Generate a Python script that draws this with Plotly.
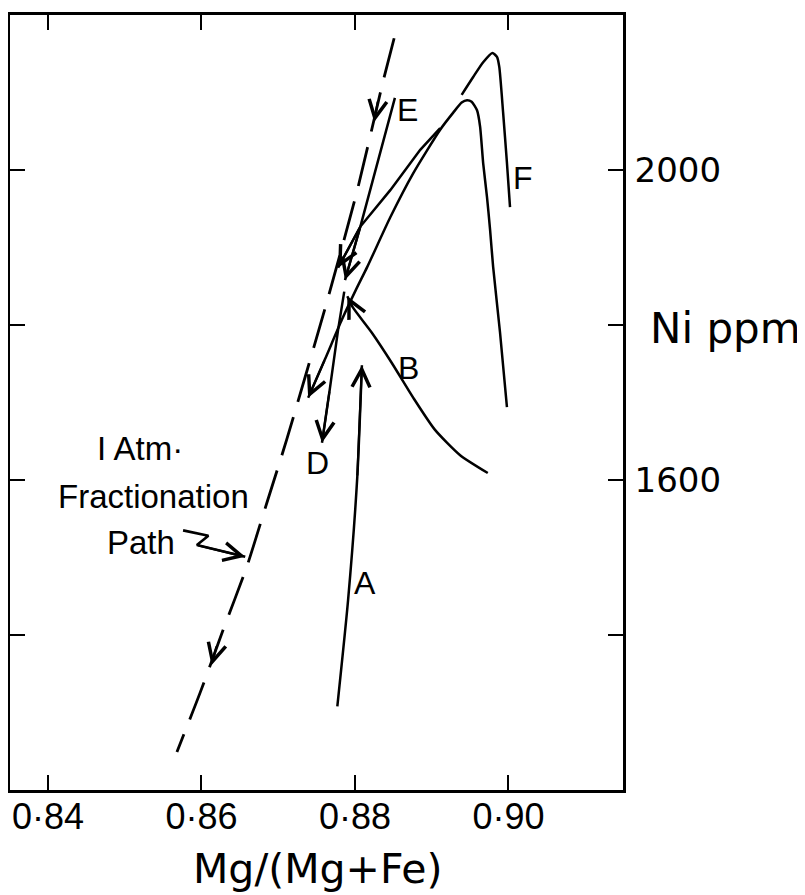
import plotly.graph_objects as go

FONT = "Liberation Sans, Arial, sans-serif"
WIDE = "DejaVu Sans, Verdana, sans-serif"

# ---- axes ----
x_range = [0.83505, 0.91492]
y_range = [1200, 2200]
x_ticks = [0.84, 0.86, 0.88, 0.90]
x_tick_labels = ["0·84", "0·86", "0·88", "0·90"]
y_ticks = [1400, 1600, 1800, 2000]
y_tick_labels = ["", "1600", "", "2000"]

# ---- 1 atm fractionation path (dashed) ----
atm_x = [0.8851, 0.8837, 0.8803, 0.8764, 0.8711, 0.8685, 0.8659, 0.8628, 0.8598, 0.8568]
atm_y = [2170, 2116, 1974, 1832, 1652, 1570, 1488, 1406, 1325, 1249]
atm_arrow_tip_x = [0.8825, 0.8613]
atm_arrow_tip_y = [2062, 1361]
atm_arrow_tail_x = [0.8830, 0.8620]
atm_arrow_tail_y = [2090, 1387]

# ---- path A (rising) ----
A_x = [0.8777, 0.8791, 0.8803, 0.8809]
A_y = [1308, 1445, 1604, 1748]

# ---- path B (from lower right back to the junction) ----
B_x = [0.8973, 0.8937, 0.8904, 0.8876, 0.8848, 0.8822, 0.8797, 0.8790]
B_y = [1609, 1632, 1665, 1706, 1751, 1790, 1823, 1837]

# ---- long curve: lower right end -> peak -> down-left to arrow ----
C_x = [0.8998, 0.8989, 0.8980, 0.8976, 0.8972, 0.8967, 0.8963, 0.8959, 0.8952,
       0.8946, 0.8939, 0.8928, 0.8911, 0.8876, 0.8846, 0.8816, 0.8801, 0.8783,
       0.8761, 0.8739]
C_y = [1694, 1790, 1875, 1923, 1965, 2009, 2056, 2077, 2088,
       2090, 2087, 2074, 2052, 1996, 1939, 1875, 1845, 1807,
       1756, 1706]

# ---- path F ----
F_x = [0.8939, 0.8954, 0.8967, 0.8979, 0.8985, 0.8988, 0.8993, 0.8998, 0.9002]
F_y = [2097, 2120, 2139, 2151, 2146, 2133, 2074, 2009, 1952]

# ---- branch from the knee down to the junction ----
G_x = [0.8911, 0.8885, 0.8846, 0.8807, 0.8778]
G_y = [2054, 2026, 1974, 1927, 1874]

# ---- path E ----
E_x = [0.8852, 0.8816, 0.8807, 0.8787]
E_y = [2093, 1961, 1927, 1858]

# ---- path D ----
D_x = [0.8786, 0.8778, 0.8767, 0.8757]
D_y = [1843, 1794, 1716, 1648]

# ---- pointer from "Path" label ----
ptr_x = [0.8576, 0.8609, 0.8594, 0.8657]
ptr_y = [1535, 1528, 1516, 1501]

# ---- labels ----
label_text = ["I Atm·", "Fractionation", "Path", "E", "F", "B", "D", "A"]
label_x = [0.8520, 0.8537, 0.8521, 0.8868, 0.9019, 0.8870, 0.8751, 0.8813]
label_y = [1641, 1579, 1520, 2077, 1990, 1745, 1622, 1467]
label_size = [33, 33, 33, 32, 32, 32, 32, 32]

fig = go.Figure()


def add_curve(xs, ys, dash=None, shape="spline", width=2.5):
    fig.add_trace(go.Scatter(
        x=xs, y=ys, mode="lines",
        line=dict(color="black", width=width, dash=dash, shape=shape, smoothing=0.6),
        hoverinfo="skip", showlegend=False))


def add_arrow(tx, ty, sx, sy):
    fig.add_annotation(x=tx, y=ty, ax=sx, ay=sy, xref="x", yref="y",
                       axref="x", ayref="y", text="", showarrow=True,
                       arrowhead=5, arrowsize=1.6, arrowwidth=2.2,
                       arrowcolor="black", standoff=0)


add_curve(atm_x, atm_y, dash="40px,16px", width=2.8)
add_curve(A_x, A_y)
add_curve(B_x, B_y)
add_curve(C_x, C_y)
add_curve(F_x, F_y)
add_curve(G_x, G_y, shape="linear")
add_curve(E_x, E_y, shape="linear")
add_curve(D_x, D_y, shape="linear")
add_curve(ptr_x, ptr_y, shape="linear", width=2.6)

for xs, ys in [(A_x, A_y), (B_x, B_y), (C_x, C_y), (G_x, G_y),
               (E_x, E_y), (D_x, D_y), (ptr_x, ptr_y)]:
    add_arrow(xs[-1], ys[-1], xs[-2], ys[-2])
for i in range(len(atm_arrow_tip_x)):
    add_arrow(atm_arrow_tip_x[i], atm_arrow_tip_y[i],
              atm_arrow_tail_x[i], atm_arrow_tail_y[i])

for t, x, y, s in zip(label_text, label_x, label_y, label_size):
    fig.add_annotation(x=x, y=y, xref="x", yref="y", text=t, showarrow=False,
                       font=dict(family=FONT, size=s, color="black"),
                       xanchor="center", yanchor="middle")

fig.add_annotation(x=1.168, y=0.5955, xref="paper", yref="paper", text="Ni ppm",
                   showarrow=False, font=dict(family=WIDE, size=42, color="black"),
                   xanchor="center", yanchor="middle")
fig.add_annotation(x=0.503, y=-0.1025, xref="paper", yref="paper", text="Mg/(Mg+Fe)",
                   showarrow=False, font=dict(family=WIDE, size=41, color="black"),
                   xanchor="center", yanchor="middle")

axis_common = dict(ticks="inside", ticklen=15, tickwidth=2, tickcolor="black",
                   showline=True, linewidth=2.6, linecolor="black", mirror="ticks",
                   showgrid=False, zeroline=False, automargin=False)
fig.update_xaxes(range=x_range, tickvals=x_ticks, ticktext=x_tick_labels,
                 tickfont=dict(family=FONT, size=36, color="black"),
                 ticklabelstandoff=-7, **axis_common)
fig.update_yaxes(range=y_range, tickvals=y_ticks, ticktext=y_tick_labels, side="right",
                 tickfont=dict(family=WIDE, size=34, color="black"),
                 ticklabelstandoff=2, **axis_common)

fig.update_layout(width=797, height=887, margin=dict(l=2, r=182, t=7, b=105),
                  plot_bgcolor="white", paper_bgcolor="white", showlegend=False)

fig.write_html("out.html")
